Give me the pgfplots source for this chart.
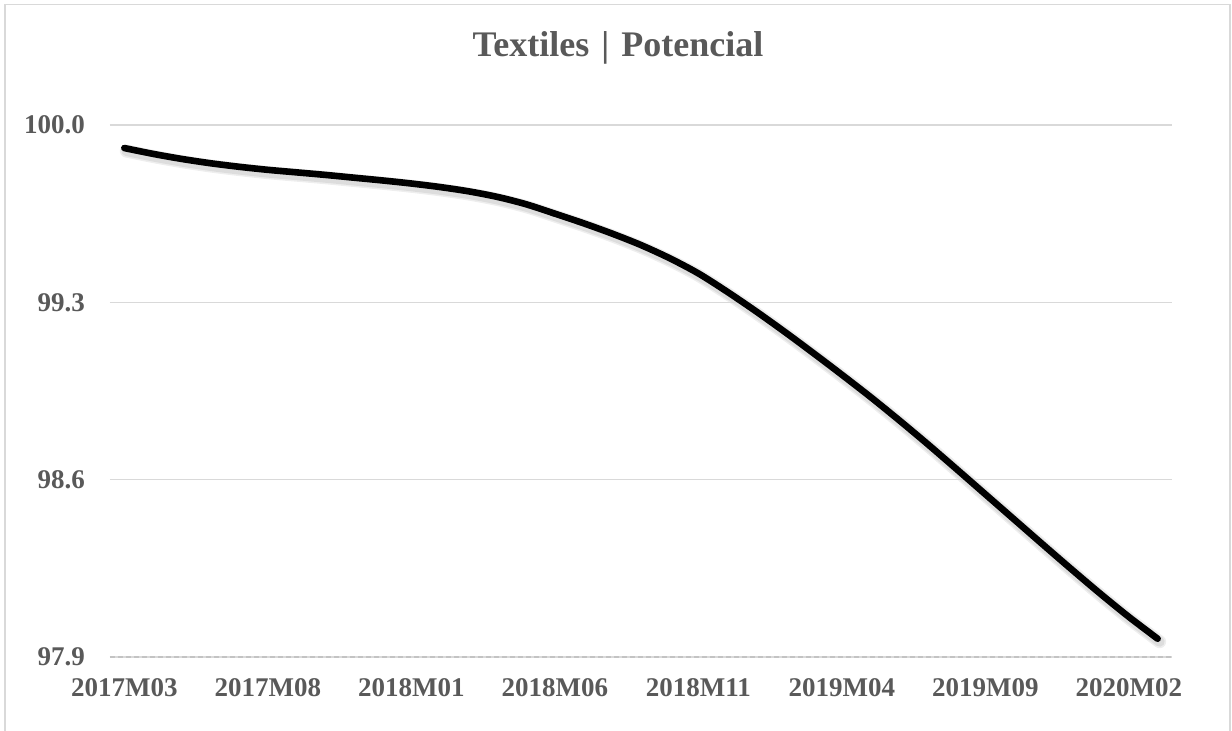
\documentclass[border=0pt]{standalone}
\usepackage{pgfplots}
\pgfplotsset{compat=1.18}
\usepackage{pgfplotstable}
\usepackage{fontspec}
\setmainfont{Liberation Serif}
\definecolor{txt}{HTML}{595959}
\definecolor{grid}{HTML}{D9D9D9}
\pgfplotstableread{
m v
0 99.909
1 99.886
2 99.866
3 99.849
4 99.835
5 99.823
6 99.813
7 99.803
8 99.792
9 99.781
10 99.769
11 99.755
12 99.738
13 99.716
14 99.687
15 99.650
16 99.612
17 99.571
18 99.526
19 99.474
20 99.414
21 99.342
22 99.265
23 99.184
24 99.100
25 99.014
26 98.926
27 98.834
28 98.739
29 98.641
30 98.542
31 98.443
32 98.344
33 98.246
34 98.150
35 98.058
36 97.972
}\data
\begin{document}
\begin{tikzpicture}[x=1pt,y=1pt]
\useasboundingbox (0,0) rectangle (616,365.5);
\draw[grid, line width=0.75pt] (2.5,-5) -- (2.5,363.2) -- (615,363.2) -- (615,-5);
\node[txt, font=\bfseries\fontsize{18}{21}\selectfont] at (309,341.5) {Textiles\,\,|\,\,Potencial};
\begin{axis}[
  at={(55pt,37pt)}, anchor=south west,
  scale only axis, width=531pt, height=266pt,
  xmin=-0.5, xmax=36.5, ymin=97.9, ymax=100.0,
  xtick={0,5,10,15,20,25,30,35},
  xticklabels={2017M03,2017M08,2018M01,2018M06,2018M11,2019M04,2019M09,2020M02},
  ytick={97.9,98.6,99.3,100.0},
  y tick label style={/pgf/number format/fixed, /pgf/number format/fixed zerofill, /pgf/number format/precision=1},
  /pgf/number format/assume math mode=true,
  tick label style={txt, font=\bfseries\fontsize{13.5}{15}\selectfont},
  x tick label style={yshift=-7pt},
  y tick label style={xshift=-9pt},
  major tick length=0pt,
  xtick style={draw=none}, ytick style={draw=none},
  axis line style={draw=none},
  xmajorgrids=false, ymajorgrids=true,
  y grid style={grid, line width=0.75pt},
  clip=false,
]
\draw[grid!90!black, dash pattern=on 2.5pt off 1.5pt, line width=0.6pt] (axis cs:-0.5,97.9) -- (axis cs:36.5,97.9);
\addplot[black!25, opacity=0.45, line width=5pt, smooth, line cap=round, transform canvas={xshift=1pt,yshift=-1.5pt}] table[x=m,y=v] {\data};
\addplot[black!15, opacity=0.45, line width=6.5pt, smooth, line cap=round, transform canvas={xshift=1pt,yshift=-1.5pt}] table[x=m,y=v] {\data};
\addplot[black, line width=3.3pt, smooth, line cap=round] table[x=m,y=v] {\data};
\end{axis}
\end{tikzpicture}
\end{document}
